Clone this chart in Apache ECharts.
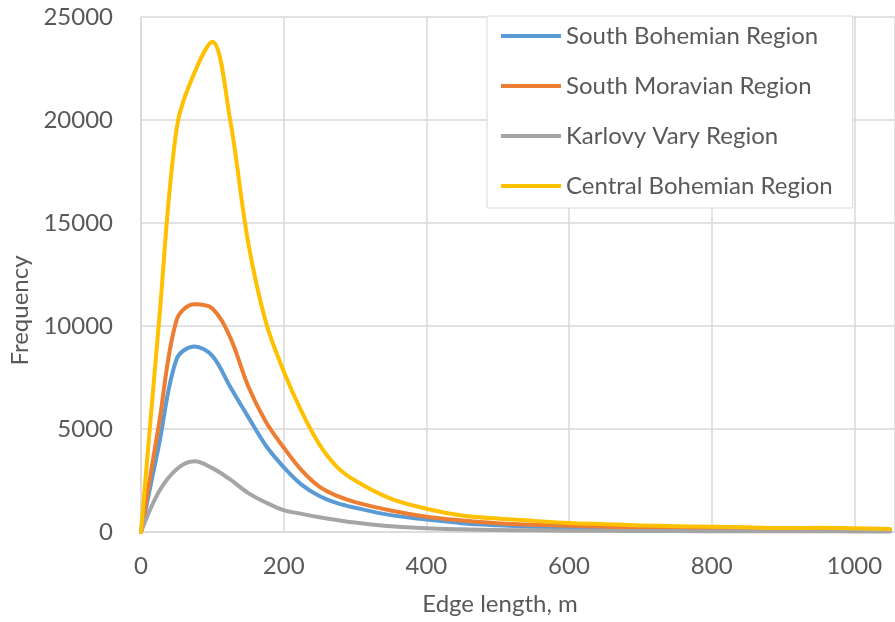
<!DOCTYPE html>
<html>
<head>
<meta charset="utf-8">
<script src="https://cdn.jsdelivr.net/npm/echarts@6/dist/echarts.min.js"></script>
<style>
  html, body { margin: 0; padding: 0; background: #fff; }
  #chart { width: 895px; height: 622px; }
</style>
</head>
<body>
<div id="chart"></div>
<script>
var edgeLength = [0, 25, 50, 75, 100, 125, 150, 175, 200, 225, 250, 275, 300, 350, 400, 450, 500, 550, 600, 650, 700, 750, 800, 850, 900, 950, 1000, 1050];

var southBohemian = [0, 4200, 8400, 9000, 8550, 7050, 5600, 4200, 3150, 2300, 1750, 1400, 1180, 820, 610, 430, 330, 260, 210, 170, 140, 120, 100, 90, 80, 75, 70, 60];
var southMoravian = [0, 5200, 10300, 11050, 10850, 9450, 7100, 5350, 4100, 3000, 2200, 1750, 1450, 1040, 740, 560, 430, 350, 300, 250, 220, 190, 170, 150, 140, 130, 120, 110];
var karlovyVary = [0, 1950, 3050, 3430, 3100, 2550, 1900, 1430, 1060, 880, 720, 580, 460, 280, 180, 130, 100, 80, 65, 55, 50, 45, 40, 38, 35, 33, 30, 30];
var centralBohemian = [0, 10100, 19600, 22300, 23800, 20000, 14100, 10200, 7800, 5850, 4250, 3150, 2500, 1620, 1130, 800, 650, 540, 440, 380, 320, 280, 250, 230, 190, 210, 180, 150];

var seriesNames = ['South Bohemian Region', 'South Moravian Region', 'Karlovy Vary Region', 'Central Bohemian Region'];
var seriesColors = ['#5B9BD5', '#ED7D31', '#A5A5A5', '#FFC000'];
var seriesValues = [southBohemian, southMoravian, karlovyVary, centralBohemian];

var fontFamily = 'Lato, "Liberation Sans", sans-serif';

function pairs(values) {
    return values.map(function (v, i) { return [edgeLength[i], v]; });
}

var myChart = echarts.init(document.getElementById('chart'));

var option = {
    backgroundColor: '#fff',
    animation: false,
    color: seriesColors,
    grid: {
        left: 141,
        top: 17,
        right: 0,
        bottom: 90,
        containLabel: false,
        outerBoundsMode: 'none'
    },
    legend: {
        orient: 'vertical',
        left: 487,
        top: 16,
        padding: [8, 20, 10, 14],
        itemGap: 26,
        itemWidth: 60,
        itemHeight: 4,
        icon: 'rect',
        backgroundColor: '#fff',
        borderColor: '#d9d9d9',
        borderWidth: 1,
        data: seriesNames,
        textStyle: {
            fontFamily: fontFamily,
            fontSize: 24,
            lineHeight: 24,
            color: '#595959'
        }
    },
    xAxis: {
        type: 'value',
        min: 0,
        max: 1057,
        interval: 200,
        name: 'Edge length, m',
        nameLocation: 'middle',
        nameGap: 60,
        nameTextStyle: {
            fontFamily: fontFamily,
            fontSize: 24,
            color: '#595959',
            padding: [0, 36, 0, 0]
        },
        axisLine: { show: true, lineStyle: { color: '#d9d9d9', width: 1.5 } },
        axisTick: { show: false },
        axisLabel: {
            margin: 22,
            fontFamily: fontFamily,
            fontSize: 24,
            color: '#595959',
            formatter: function (v) { return v % 200 === 0 ? String(v) : ''; }
        },
        splitLine: { show: true, lineStyle: { color: '#d9d9d9', width: 1.5 } }
    },
    yAxis: {
        type: 'value',
        min: 0,
        max: 25000,
        interval: 5000,
        name: 'Frequency',
        nameLocation: 'middle',
        nameGap: 106,
        nameTextStyle: {
            fontFamily: fontFamily,
            fontSize: 24,
            color: '#595959',
            padding: [0, 72, 0, 0]
        },
        axisLine: { show: true, lineStyle: { color: '#d9d9d9', width: 1.5 } },
        axisTick: { show: false },
        axisLabel: {
            margin: 28,
            fontFamily: fontFamily,
            fontSize: 24,
            color: '#595959',
            formatter: function (v) { return String(v); }
        },
        splitLine: { show: true, lineStyle: { color: '#d9d9d9', width: 1.5 } }
    },
    series: seriesNames.map(function (name, i) {
        return {
            name: name,
            type: 'line',
            data: pairs(seriesValues[i]),
            smooth: 0.35,
            symbol: 'none',
            lineStyle: { width: 4, color: seriesColors[i], cap: 'round', join: 'round' }
        };
    })
};

myChart.setOption(option);
</script>
</body>
</html>
